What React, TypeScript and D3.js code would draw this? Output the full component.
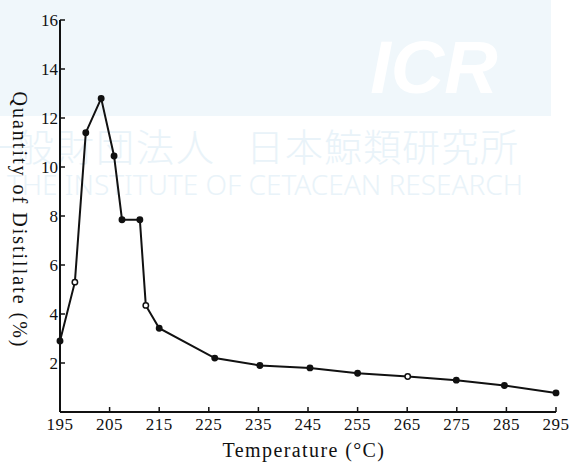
import React from "react";
import { scaleLinear, line } from "d3";

const temps = [195, 198, 200.2, 203.3, 205.9, 207.5, 211.1, 212.3, 215, 226.2, 235.3, 245.4, 255, 265.1, 274.9, 284.6, 295];
const quantity = [2.9, 5.3, 11.4, 12.8, 10.45, 7.85, 7.85, 4.35, 3.42, 2.2, 1.9, 1.8, 1.58, 1.45, 1.3, 1.08, 0.78];
const hollow = [198, 212.3, 265.1];
const xTicks = [195, 205, 215, 225, 235, 245, 255, 265, 275, 285, 295];
const yTicks = [2, 4, 6, 8, 10, 12, 14, 16];

const W = 572;
const H = 464;
const margin = { top: 20, right: 16, bottom: 52, left: 60 };

export default function App() {
  const x = scaleLinear().domain([195, 295]).range([margin.left, W - margin.right]);
  const y = scaleLinear().domain([0, 16]).range([H - margin.bottom, margin.top]);
  const pts = temps.map((t, i) => [x(t), y(quantity[i])] as [number, number]);
  const path = line()(pts);
  const serif = "'Liberation Serif', 'DejaVu Serif', serif";
  const wm = "#e9f3f9";

  return (
    <svg width={W} height={H} style={{ position: "absolute", left: 0, top: 0, background: "#fff" }}>
      {/* watermark */}
      <rect x={0} y={0} width={551} height={116} fill="#f0f7fb" />
      <text x={434} y={93} textAnchor="middle" fontFamily="'Liberation Sans', Arial, sans-serif" fontWeight="bold" fontStyle="italic" fontSize={74} fill="#ffffff">ICR</text>
      <text x={216} y={161} textAnchor="end" fontFamily="'Noto Sans CJK JP', sans-serif" fontWeight={300} fontSize={38} fill={wm} letterSpacing={2}>一般財団法人</text>
      <text x={246} y={161} fontFamily="'Noto Sans CJK JP', sans-serif" fontWeight={300} fontSize={38} fill={wm} letterSpacing={1}>日本鯨類研究所</text>
      <text x={523} y={195} textAnchor="end" fontFamily="'Noto Sans', sans-serif" fontWeight={300} fontSize={28} fill={wm}>THE INSTITUTE OF CETACEAN RESEARCH</text>

      {/* axes */}
      <line x1={x(195)} x2={x(195)} y1={y(16)} y2={y(0)} stroke="#111" strokeWidth={2} />
      <line x1={x(195)} x2={x(295)} y1={y(0)} y2={y(0)} stroke="#111" strokeWidth={2} />
      {yTicks.map((t) => (
        <g key={t}>
          <line x1={x(195)} x2={x(195) + 5} y1={y(t)} y2={y(t)} stroke="#111" strokeWidth={1.5} />
          <text x={x(195) - 2} y={y(t)} dy="0.35em" textAnchor="end" fontFamily={serif} fontSize={17} fill="#111">{t}</text>
        </g>
      ))}
      {xTicks.map((t) => (
        <g key={t}>
          <line x1={x(t)} x2={x(t)} y1={y(0)} y2={y(0) - 5} stroke="#111" strokeWidth={1.5} />
          <text x={x(t)} y={y(0) + 18} textAnchor="middle" fontFamily={serif} fontSize={17} fill="#111" letterSpacing={0.5}>{t}</text>
        </g>
      ))}

      {/* series */}
      <path d={path ?? ""} fill="none" stroke="#111" strokeWidth={2} />
      {temps.map((t, i) => (
        <circle key={t} cx={x(t)} cy={y(quantity[i])} r={2.7} fill={hollow.includes(t) ? "#fff" : "#111"} stroke="#111" strokeWidth={1.5} />
      ))}

      {/* labels */}
      <text x={304} y={457} textAnchor="middle" fontFamily={serif} fontSize={20} fill="#111" letterSpacing={1.4}>Temperature (°C)</text>
      <text transform="translate(13,220) rotate(90)" textAnchor="middle" fontFamily={serif} fontSize={20} fill="#111" letterSpacing={2}>Quantity of  Distillate (%)</text>
    </svg>
  );
}
